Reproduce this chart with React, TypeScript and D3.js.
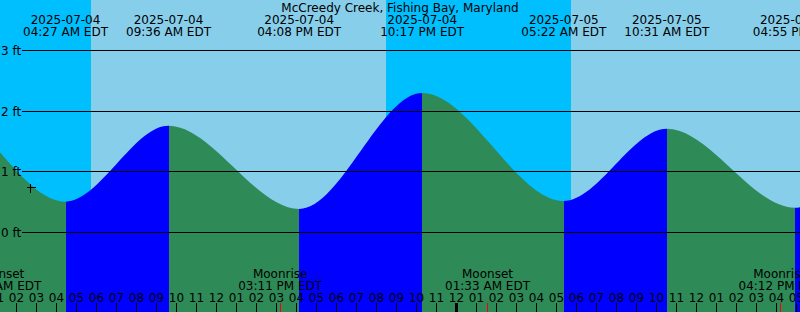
import React from "react";
import * as d3 from "d3";

const W = 800;
const H = 312;

const title = "McCreedy Creek, Fishing Bay, Maryland";
const viewStart = "2025-07-04 01:10:30";
const viewEnd = "2025-07-05 17:10:30";

const tideTimes = [
  "2025-07-03 15:20:00",
  "2025-07-03 21:35:00",
  "2025-07-04 04:27:00",
  "2025-07-04 09:36:00",
  "2025-07-04 16:08:00",
  "2025-07-04 22:17:00",
  "2025-07-05 05:22:00",
  "2025-07-05 10:31:00",
  "2025-07-05 16:55:00",
  "2025-07-05 23:10:00",
  "2025-07-06 06:15:00",
];
const tideHeights = [0.4, 2.25, 0.5, 1.75, 0.38, 2.29, 0.51, 1.7, 0.4, 2.2, 0.5];

const sunTimes = [
  "2025-07-03 20:29:00",
  "2025-07-04 05:43:30",
  "2025-07-04 20:29:00",
  "2025-07-05 05:43:30",
  "2025-07-05 20:29:00",
];
const sunKinds = ["set", "rise", "set", "rise", "set"];

const moonTimes = [
  "2025-07-04 01:07:00",
  "2025-07-04 15:11:00",
  "2025-07-05 01:33:00",
  "2025-07-05 16:12:00",
];
const moonKinds = ["Moonset", "Moonrise", "Moonset", "Moonrise"];

const nowTime = "2025-07-04 02:40:30";
const nowHeight = 0.73;

const yTicks = [0, 1, 2, 3];

const parse = d3.timeParse("%Y-%m-%d %H:%M:%S");
const fmtDate = d3.timeFormat("%Y-%m-%d");
const fmtTime = d3.timeFormat("%I:%M %p EDT");
const fmtHour = d3.timeFormat("%I");

const FONT = "DejaVu Sans";
const SKY_DAY = "#87CEEB";
const SKY_NIGHT = "#00BFFF";
const FLOOD = "#0000FF";
const EBB = "#2E8B57";

export default function App() {
  const t0 = parse(viewStart)!;
  const t1 = parse(viewEnd)!;
  const x = d3.scaleTime().domain([t0, t1]).range([0, W]);
  const y = d3.scaleLinear().domain([0, 3]).range([232, 50]);

  const tides = tideTimes.map((t, i) => ({ t: parse(t)!, h: tideHeights[i] }));
  const suns = sunTimes.map((t, i) => ({ t: parse(t)!, k: sunKinds[i] }));
  const moons = moonTimes.map((t, i) => ({ t: parse(t)!, k: moonKinds[i] }));

  const areaBelow = d3
    .area<{ t: Date; h: number }>()
    .x((d) => x(d.t))
    .y0(H)
    .y1((d) => y(d.h))
    .curve(d3.curveMonotoneX);

  const skySegs: { x0: number; x1: number; fill: string }[] = [];
  for (let i = 0; i < suns.length - 1; i++) {
    skySegs.push({
      x0: Math.round(x(suns[i].t)),
      x1: Math.round(x(suns[i + 1].t)),
      fill: suns[i].k === "rise" ? SKY_DAY : SKY_NIGHT,
    });
  }
  const waterSegs: { x0: number; x1: number; fill: string }[] = [];
  for (let i = 0; i < tides.length - 1; i++) {
    waterSegs.push({
      x0: Math.round(x(tides[i].t)),
      x1: Math.round(x(tides[i + 1].t)),
      fill: tides[i + 1].h > tides[i].h ? FLOOD : EBB,
    });
  }

  const hours = d3.timeHour.range(d3.timeHour.offset(t0, -1), d3.timeHour.offset(t1, 1));
  const labeled = tides.filter((d) => x(d.t) > -60 && x(d.t) < W + 60);

  return (
    <>
      <style>{`body{margin:0}`}</style>
      <svg width={W} height={H} style={{ display: "block" }} fontFamily={FONT} fontSize={12}>
        <defs>
          <clipPath id="below">
            <path d={areaBelow(tides) || ""} />
          </clipPath>
          <clipPath id="frame">
            <rect x={0} y={0} width={W} height={H} />
          </clipPath>
        </defs>
        <g clipPath="url(#frame)">
          {skySegs.map((s, i) => (
            <rect key={"s" + i} x={s.x0} y={0} width={s.x1 - s.x0} height={H} fill={s.fill} shapeRendering="crispEdges" />
          ))}
          <g clipPath="url(#below)" shapeRendering="crispEdges">
            {waterSegs.map((s, i) => (
              <rect key={"w" + i} x={s.x0} y={0} width={s.x1 - s.x0} height={H} fill={s.fill} shapeRendering="crispEdges" />
            ))}
          </g>

          {yTicks.map((v) => {
            const yy = Math.round(y(v)) + 0.5;
            return (
              <g key={"y" + v}>
                <line x1={22} x2={W} y1={yy} y2={yy} stroke="#000" strokeWidth={1} shapeRendering="crispEdges" />
                <text x={1} y={yy + 4} fill="#000">{`${v} ft`}</text>
              </g>
            );
          })}

          <text x={W / 2} y={12} textAnchor="middle" fill="#000">{title}</text>

          {labeled.map((d, i) => (
            <g key={"t" + i} textAnchor="middle" fill="#000">
              <text x={x(d.t)} y={24}>{fmtDate(d.t)}</text>
              <text x={x(d.t)} y={36}>{fmtTime(d.t)}</text>
            </g>
          ))}

          {moons.map((d, i) => (
            <g key={"m" + i} textAnchor="middle" fill="#000">
              <text x={x(d.t)} y={278}>{d.k}</text>
              <text x={x(d.t)} y={290}>{fmtTime(d.t)}</text>
            </g>
          ))}

          {hours.map((h, i) => {
            const xx = Math.round(x(h) - 0.5) + 0.5;
            const midnight = h.getHours() === 0;
            return (
              <g key={"h" + i}>
                <text x={xx} y={302} textAnchor="middle" fill="#000">{fmtHour(h)}</text>
                <line x1={xx} x2={xx} y1={303} y2={H} stroke="#000" strokeWidth={midnight ? 3 : 1} shapeRendering="crispEdges" />
              </g>
            );
          })}

          {moons.map((d, i) => {
            const xx = Math.round(x(d.t) - 0.5) + 0.5;
            return <line key={"mt" + i} x1={xx} x2={xx} y1={303} y2={H} stroke="#FF0000" strokeWidth={1} shapeRendering="crispEdges" />;
          })}

          {(() => {
            const cx = Math.round(x(parse(nowTime)!) - 0.5) + 0.5;
            const cy = Math.round(y(nowHeight) - 0.5) + 0.5;
            return (
              <g stroke="#000" strokeWidth={1} shapeRendering="crispEdges">
                <line x1={cx - 4} x2={cx + 5} y1={cy} y2={cy} />
                <line x1={cx} x2={cx} y1={cy - 4} y2={cy + 5} />
              </g>
            );
          })()}
        </g>
      </svg>
    </>
  );
}
